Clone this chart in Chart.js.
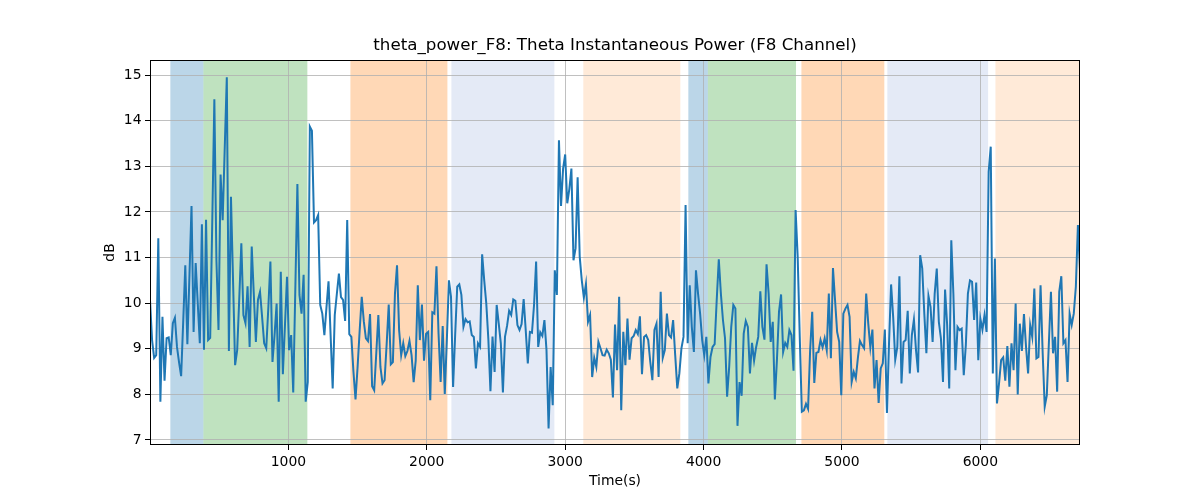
<!DOCTYPE html>
<html>
<head>
<meta charset="utf-8">
<script src="https://cdn.jsdelivr.net/npm/chart.js@4.4.1/dist/chart.umd.min.js"></script>
<style>
    html, body { margin: 0; padding: 0; background: #fff; }
    #wrap { width: 1200px; height: 500px; }
</style>
</head>
<body>
<div id="wrap"><canvas id="powerChart" width="1200" height="500"></canvas></div>
<script>
// 数据
const chartTitle = 'theta_power_F8: Theta Instantaneous Power (F8 Channel)';
const SAMPLE_PERIOD = 15; // 秒

const thetaPowerDb = [
    10.07, 9.19, 8.80, 8.86, 11.42, 7.84, 9.70, 8.30, 9.23, 9.25,
    8.86, 9.56, 9.68, 9.04, 8.70, 8.40, 9.60, 10.83, 9.10, 10.60,
    12.13, 9.37, 10.88, 10.00, 9.12, 11.73, 8.98, 11.83, 9.19, 9.24,
    11.80, 14.47, 10.94, 9.41, 12.82, 11.82, 13.40, 14.95, 8.95, 12.33,
    10.50, 8.64, 8.97, 10.10, 11.31, 9.74, 9.56, 10.37, 9.04, 11.24,
    10.20, 9.15, 10.07, 10.25, 9.70, 9.12,
    9.01, 9.90, 10.91, 8.71, 9.30, 9.99, 7.84, 10.69, 8.44, 9.50,
    10.58, 8.97, 9.30, 8.04, 10.30, 12.61, 10.18, 9.77, 10.62, 7.84,
    8.27, 13.87, 13.78, 11.77, 11.82, 11.93, 9.96, 9.77, 9.30, 9.90,
    10.48, 9.30, 8.13, 9.74, 10.20, 10.65, 10.13, 10.07, 9.61, 11.82,
    9.32, 9.26, 8.50, 7.89, 8.60, 9.40, 10.14, 9.60, 9.23, 9.17,
    9.76, 8.18, 8.09, 8.90, 9.74,
    8.60, 8.24, 8.31, 9.10, 9.97, 8.66, 8.71, 10.21, 10.83, 9.41,
    8.86, 9.12, 8.84, 8.95, 9.17, 8.86, 8.27, 8.74, 10.39, 9.19,
    9.97, 8.74, 9.33, 9.37, 7.87, 9.80, 9.77, 10.81, 9.33, 8.27,
    9.50, 8.01, 9.20, 10.50, 10.14, 8.16, 9.30, 10.36, 10.41, 10.18,
    9.48, 9.65, 9.58, 9.60, 9.30, 9.26, 8.57, 9.12, 9.04, 11.07,
    10.50, 9.99, 9.20, 8.07, 9.27, 8.49,
    9.96, 9.55, 9.12, 8.04, 9.26, 9.50, 9.83, 9.74, 10.08, 10.05,
    9.52, 9.41, 9.54, 10.09, 9.40, 8.68, 9.37, 9.35, 9.96, 10.91,
    9.04, 9.36, 9.28, 9.63, 8.97, 7.25, 8.60, 7.76, 10.72, 10.18,
    13.57, 12.13, 12.95, 13.26, 12.19, 12.50, 12.95, 10.94, 11.20, 12.76,
    11.02, 10.50, 10.12, 10.42, 9.59, 9.74, 8.38, 8.80, 8.60, 9.15,
    9.01, 8.86, 8.85, 8.98, 8.90, 8.76,
    7.93, 9.53, 8.53, 10.14, 7.65, 9.37, 8.64, 9.66, 8.76, 9.23,
    9.28, 9.41, 9.32, 9.71, 8.44, 9.26, 9.30, 9.19, 8.71, 8.31,
    9.41, 9.55, 8.38, 10.25, 8.80, 8.97, 9.77, 9.30, 9.25, 9.63,
    8.86, 8.13, 8.46, 9.01, 9.26, 12.15, 9.12, 10.39, 9.48, 8.93,
    10.72, 10.21, 9.77, 9.19, 8.86, 9.26, 8.24, 8.82, 9.04, 9.10,
    10.07, 10.96, 10.21, 9.63, 9.23, 7.95,
    8.60, 9.48, 9.96, 9.88, 7.31, 8.27, 7.97, 9.33, 9.61, 9.48,
    8.46, 9.13, 8.74, 9.04, 9.26, 10.26, 9.48, 9.20, 10.85, 10.21,
    9.15, 9.59, 7.89, 8.75, 9.81, 10.19, 8.93, 9.13, 9.04, 9.41,
    9.30, 8.52, 12.04, 11.02, 9.26, 7.62, 7.65, 7.79, 7.68, 8.97,
    9.81, 8.25, 8.91, 8.93, 9.19, 9.03, 9.23, 8.97, 10.21, 8.79,
    10.77, 10.07, 9.37, 9.15, 7.98, 9.77,
    9.88, 9.96, 9.70, 8.27, 8.49, 8.35, 8.80, 9.17, 9.08, 9.01,
    10.21, 9.55, 9.03, 9.42, 8.13, 8.75, 7.81, 8.57, 8.68, 9.42,
    7.59, 9.12, 10.41, 9.70, 8.76, 9.04, 10.59, 8.24, 9.15, 9.19,
    9.83, 8.46, 9.30, 9.64, 8.97, 8.48, 11.05, 10.76, 9.77, 8.90,
    10.16, 9.92, 9.15, 10.21, 10.76, 9.59, 9.23, 8.27, 10.30, 9.52,
    8.13, 11.38, 10.21, 8.53, 9.48, 9.41,
    9.44, 8.42, 9.08, 10.21, 10.50, 10.47, 9.63, 10.45, 8.75, 9.66,
    9.42, 9.74, 9.37, 12.88, 13.43, 8.46, 10.98, 7.80, 8.24, 8.75,
    8.81, 8.30, 9.06, 8.17, 9.12, 8.53, 9.99, 8.00, 9.55, 8.95,
    9.76, 9.04, 8.46, 9.52, 9.26, 10.32, 8.79, 8.82, 10.39, 8.93,
    7.73, 7.98, 9.12, 10.25, 8.90, 9.26, 8.06, 10.25, 10.59, 9.12,
    9.19, 8.27, 9.77, 9.52, 9.77, 10.36, 11.71, 10.72
];

// 背景区间（秒）
const spanStarts = [147, 386, 1448, 2178, 3131, 3890, 4031, 4707, 5328, 6109];
const spanEnds   = [386, 1137, 2149, 2922, 3832, 4031, 4668, 5306, 6056, 6720];
const spanKinds  = ['blue', 'green', 'orange', 'paleBlue', 'paleOrange',
                    'blue', 'green', 'orange', 'paleBlue', 'paleOrange'];

const xTicks = [1000, 2000, 3000, 4000, 5000, 6000];
const yTicks = [7, 8, 9, 10, 11, 12, 13, 14, 15];

// 区间颜色
const spanColors = {
    blue: 'rgba(31, 119, 180, 0.3)',
    green: 'rgba(44, 160, 44, 0.3)',
    orange: 'rgba(255, 127, 14, 0.3)',
    paleBlue: 'rgba(31, 80, 180, 0.12)',
    paleOrange: 'rgba(255, 127, 14, 0.16)'
};

const FONT = 'DejaVu Sans';

// 区间背景插件
const spanPlugin = {
    id: 'spans',
    beforeDraw(chart) {
        const { ctx, chartArea, scales } = chart;
        ctx.save();
        ctx.beginPath();
        ctx.rect(chartArea.left, chartArea.top, chartArea.right - chartArea.left, chartArea.bottom - chartArea.top);
        ctx.clip();
        spanStarts.forEach((start, i) => {
            const x0 = scales.x.getPixelForValue(start);
            const x1 = scales.x.getPixelForValue(spanEnds[i]);
            ctx.fillStyle = spanColors[spanKinds[i]];
            ctx.fillRect(x0, chartArea.top, x1 - x0, chartArea.bottom - chartArea.top);
        });
        ctx.restore();
    }
};

// 边框和标题插件
const framePlugin = {
    id: 'frame',
    afterDraw(chart) {
        const { ctx, chartArea } = chart;
        ctx.save();
        ctx.strokeStyle = '#000';
        ctx.lineWidth = 1;
        ctx.strokeRect(chartArea.left + 0.5, chartArea.top + 0.5,
            chartArea.right - chartArea.left - 1, chartArea.bottom - chartArea.top - 1);

        ctx.fillStyle = '#000';
        ctx.font = '16.7px "' + FONT + '"';
        ctx.textAlign = 'center';
        ctx.textBaseline = 'middle';
        ctx.fillText(chartTitle, (chartArea.left + chartArea.right) / 2, 46);
        ctx.restore();
    }
};

const points = thetaPowerDb.map((v, i) => ({ x: i * SAMPLE_PERIOD, y: v }));

new Chart(document.getElementById('powerChart').getContext('2d'), {
    type: 'line',
    data: {
        datasets: [{
            data: points,
            borderColor: '#1f77b4',
            borderWidth: 2,
            pointRadius: 0,
            tension: 0,
            fill: false
        }]
    },
    options: {
        responsive: false,
        animation: false,
        devicePixelRatio: 1,
        layout: { padding: { top: 60, right: 120, bottom: 0, left: 0 } },
        plugins: {
            legend: { display: false },
            tooltip: { enabled: false }
        },
        scales: {
            x: {
                type: 'linear',
                min: 0,
                max: 6720,
                afterBuildTicks: s => { s.ticks = xTicks.map(v => ({ value: v })); },
                afterFit: s => { s.height = 55; },
                border: { display: false },
                grid: { color: '#b0b0b0', lineWidth: 0.8, tickColor: '#000', tickLength: 5, tickWidth: 1 },
                ticks: {
                    color: '#000',
                    font: { family: FONT, size: 13.9 },
                    padding: 4,
                    maxRotation: 0,
                    autoSkip: false,
                    callback: v => String(v)
                },
                title: {
                    display: true,
                    text: 'Time(s)',
                    color: '#000',
                    font: { family: FONT, size: 13.9 },
                    padding: { top: 0, bottom: 10.6 }
                }
            },
            y: {
                min: 6.89,
                max: 15.33,
                afterBuildTicks: s => { s.ticks = yTicks.map(v => ({ value: v })); },
                afterFit: s => { s.width = 150; },
                border: { display: false },
                grid: { color: '#b0b0b0', lineWidth: 0.8, tickColor: '#000', tickLength: 5, tickWidth: 1 },
                ticks: {
                    color: '#000',
                    font: { family: FONT, size: 13.9 },
                    padding: 3.5,
                    autoSkip: false,
                    callback: v => String(v)
                },
                title: {
                    display: true,
                    text: 'dB',
                    color: '#000',
                    font: { family: FONT, size: 13.9 },
                    padding: { top: 101.6, bottom: 0 }
                }
            }
        }
    },
    plugins: [spanPlugin, framePlugin]
});
</script>
</body>
</html>
